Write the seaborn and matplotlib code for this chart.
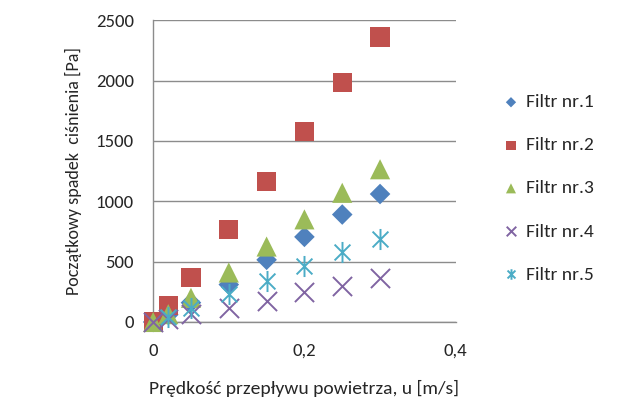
import numpy as np
import pandas as pd
import matplotlib
matplotlib.use("Agg")
import matplotlib.pyplot as plt
from matplotlib.path import Path
from matplotlib.ticker import FuncFormatter
import seaborn as sns

# data
velocity = [0, 0.02, 0.05, 0.1, 0.15, 0.2, 0.25, 0.3]
filtr_1 = [0, 60, 160, 310, 515, 705, 890, 1060]
filtr_2 = [0, 135, 365, 765, 1165, 1580, 1985, 2360]
filtr_3 = [0, 65, 200, 410, 625, 850, 1070, 1265]
filtr_4 = [0, 22, 65, 120, 175, 245, 300, 365]
filtr_5 = [None, 38, 120, 230, 340, 465, 580, 690]

series_names = ["Filtr nr.1", "Filtr nr.2", "Filtr nr.3", "Filtr nr.4", "Filtr nr.5"]
series_values = [filtr_1, filtr_2, filtr_3, filtr_4, filtr_5]

rows = []
for name, vals in zip(series_names, series_values):
    for u, p in zip(velocity, vals):
        if p is not None:
            rows.append({"u": u, "dp": p, "filtr": name})
df = pd.DataFrame(rows)

# asterisk marker like Excel's: vertical bar + X
star_path = Path(
    [(0, -1), (0, 1), (-0.75, -0.75), (0.75, 0.75), (-0.75, 0.75), (0.75, -0.75)],
    [Path.MOVETO, Path.LINETO, Path.MOVETO, Path.LINETO, Path.MOVETO, Path.LINETO],
)

styles = {
    "Filtr nr.1": dict(color="#4F81BD", marker="D", s=110),
    "Filtr nr.2": dict(color="#C0504D", marker="s", s=190),
    "Filtr nr.3": dict(color="#9BBB59", marker="^", s=210),
    "Filtr nr.4": dict(color="#8064A2", marker="x", s=190),
    "Filtr nr.5": dict(color="#4BACC6", marker=star_path, s=230),
}

sns.set_style("white")
plt.rcParams["font.family"] = ["Carlito", "Lato", "DejaVu Sans"]

fig = plt.figure(figsize=(6.2, 4.03), dpi=100)
ax = fig.add_axes([0.247, 0.201, 0.488, 0.749])

for name in series_names:
    st = styles[name]
    sub = df[df["filtr"] == name]
    lw = 1.4 if st["marker"] in ("x",) or isinstance(st["marker"], Path) else 0
    sns.scatterplot(data=sub, x="u", y="dp", ax=ax, color=st["color"],
                    marker=st["marker"], s=st["s"], linewidth=lw,
                    edgecolor=st["color"] if lw else "none", label=name,
                    zorder=3, clip_on=False)

ax.set_xlim(0, 0.4)
ax.set_ylim(0, 2500)
ax.set_xticks([0, 0.2, 0.4])
ax.set_yticks(range(0, 2501, 500))
ax.xaxis.set_major_formatter(FuncFormatter(lambda v, _: "0" if v == 0 else f"{v:.1f}".replace(".", ",")))

ax.grid(axis="y", color="#8c8c8c", linewidth=1)
ax.set_axisbelow(True)
for side in ["top", "right"]:
    ax.spines[side].set_visible(False)
for side in ["left", "bottom"]:
    ax.spines[side].set_color("#8c8c8c")
    ax.spines[side].set_linewidth(1)
ax.tick_params(axis="both", which="major", direction="out", length=5, width=1,
               color="#8c8c8c", labelsize=13.5, pad=10)
ax.tick_params(axis="y", pad=9)

ax.set_xlabel("Prędkość przepływu powietrza, u [m/s]", fontsize=14, labelpad=15)
ax.set_ylabel("Początkowy spadek  ciśnienia [Pa]", fontsize=13, labelpad=10)

ax.legend(loc="upper left", bbox_to_anchor=(1.112, 0.782), frameon=False,
          fontsize=14, labelspacing=1.36, handlelength=1.4, handletextpad=0.05,
          markerscale=0.5, borderaxespad=0)

fig.savefig("out.png", dpi=100)
